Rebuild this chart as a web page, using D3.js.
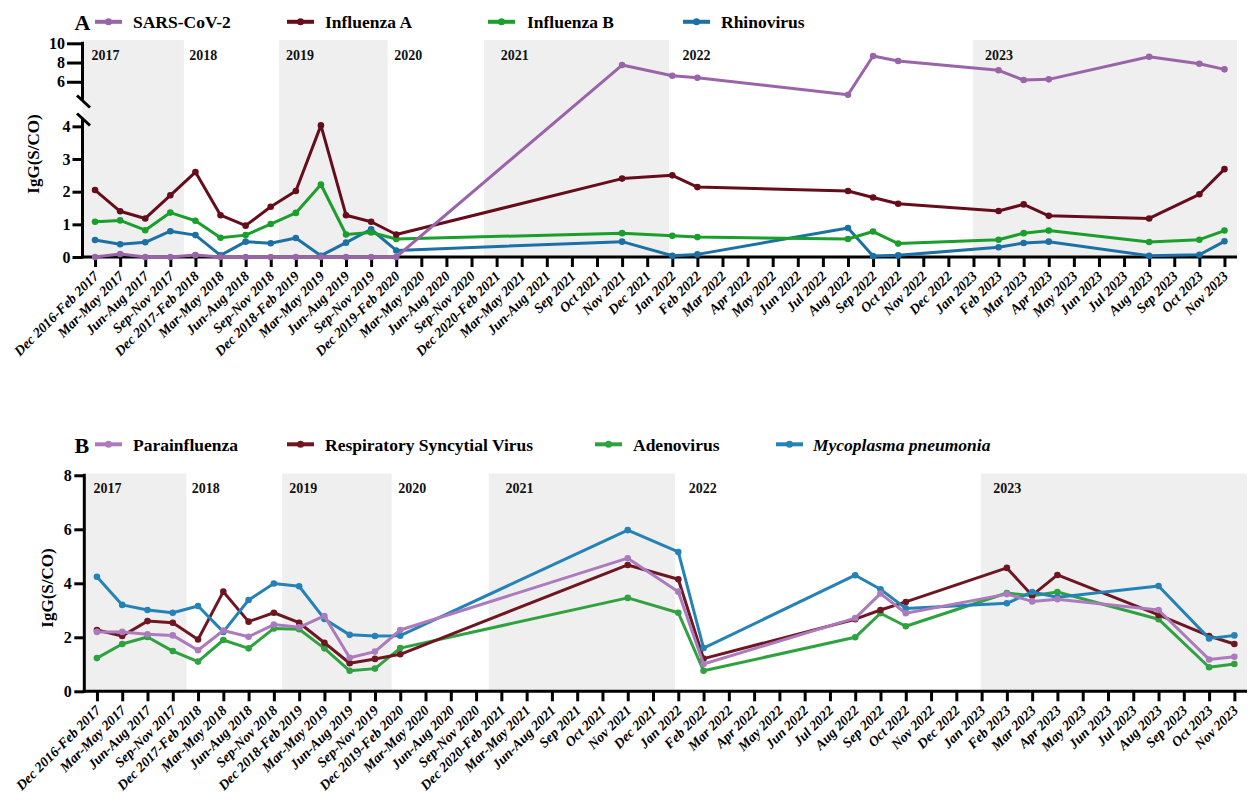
<!DOCTYPE html>
<html><head><meta charset="utf-8">
<script src="https://cdn.jsdelivr.net/npm/d3@7"></script>
<style>
body{margin:0;background:#fff;}
svg{display:block;font-family:"Liberation Serif","Times New Roman",serif;}
</style></head><body>
<svg id="chart" width="1252" height="803"></svg>
<script>
// ---------- DATA ----------
const categories = ["Dec 2016-Feb 2017","Mar-May 2017","Jun-Aug 2017","Sep-Nov 2017","Dec 2017-Feb 2018","Mar-May 2018","Jun-Aug 2018","Sep-Nov 2018","Dec 2018-Feb 2019","Mar-May 2019","Jun-Aug 2019","Sep-Nov 2019","Dec 2019-Feb 2020","Mar-May 2020","Jun-Aug 2020","Sep-Nov 2020","Dec 2020-Feb 2021","Mar-May 2021","Jun-Aug 2021","Sep 2021","Oct 2021","Nov 2021","Dec 2021","Jan 2022","Feb 2022","Mar 2022","Apr 2022","May 2022","Jun 2022","Jul 2022","Aug 2022","Sep 2022","Oct 2022","Nov 2022","Dec 2022","Jan 2023","Feb 2023","Mar 2023","Apr 2023","May 2023","Jun 2023","Jul 2023","Aug 2023","Sep 2023","Oct 2023","Nov 2023"];
const sampledCategories = ["Dec 2016-Feb 2017","Mar-May 2017","Jun-Aug 2017","Sep-Nov 2017","Dec 2017-Feb 2018","Mar-May 2018","Jun-Aug 2018","Sep-Nov 2018","Dec 2018-Feb 2019","Mar-May 2019","Jun-Aug 2019","Sep-Nov 2019","Dec 2019-Feb 2020","Nov 2021","Jan 2022","Feb 2022","Aug 2022","Sep 2022","Oct 2022","Feb 2023","Mar 2023","Apr 2023","Aug 2023","Oct 2023","Nov 2023"];

// Panel A
const sarsCoV2   = [0, 0.09, 0, 0, 0.06, 0, 0, 0, 0, 0, 0, 0, 0, 7.74, 6.63, 6.42, 4.65, 8.68, 8.16, 7.19, 6.18, 6.25, 8.60, 7.88, 7.29];
const influenzaA = [2.05, 1.40, 1.18, 1.89, 2.60, 1.28, 0.96, 1.54, 2.02, 4.03, 1.28, 1.08, 0.69, 2.40, 2.50, 2.14, 2.02, 1.82, 1.63, 1.41, 1.61, 1.26, 1.18, 1.92, 2.69];
const influenzaB = [1.08, 1.12, 0.82, 1.36, 1.11, 0.59, 0.67, 1.01, 1.35, 2.22, 0.69, 0.75, 0.55, 0.73, 0.65, 0.61, 0.55, 0.78, 0.41, 0.53, 0.73, 0.81, 0.46, 0.53, 0.81];
const rhinovirus = [0.52, 0.39, 0.45, 0.79, 0.67, 0.05, 0.47, 0.42, 0.58, 0.04, 0.44, 0.85, 0.20, 0.47, 0.04, 0.08, 0.89, 0.03, 0.05, 0.30, 0.43, 0.47, 0.04, 0.07, 0.48];

// Panel B
const parainfluenza = [2.20, 2.20, 2.11, 2.07, 1.52, 2.25, 2.02, 2.47, 2.37, 2.79, 1.24, 1.47, 2.27, 4.93, 3.69, 1.01, 2.71, 3.62, 2.89, 3.60, 3.33, 3.41, 3.01, 1.18, 1.28];
const rsv           = [2.27, 2.05, 2.60, 2.54, 1.92, 3.69, 2.58, 2.91, 2.54, 1.80, 1.04, 1.20, 1.37, 4.68, 4.15, 1.21, 2.67, 3.01, 3.31, 4.57, 3.55, 4.31, 2.83, 2.05, 1.75];
const adenovirus    = [1.23, 1.75, 2.01, 1.49, 1.10, 1.90, 1.59, 2.33, 2.30, 1.59, 0.76, 0.84, 1.60, 3.46, 2.91, 0.76, 2.00, 2.89, 2.41, 3.64, 3.54, 3.68, 2.67, 0.89, 1.01];
const mycoplasma    = [4.24, 3.20, 3.01, 2.91, 3.16, 2.20, 3.38, 3.99, 3.89, 2.68, 2.09, 2.05, 2.06, 5.97, 5.16, 1.60, 4.30, 3.78, 3.07, 3.26, 3.68, 3.48, 3.90, 1.96, 2.07];

// Year annotations (positions in category-index units)
const yearLabels   = ["2017","2018","2019","2020","2021","2022","2023"];
const yearLabelPos = [-0.14, 3.75, 7.61, 11.92, 16.16, 23.41, 35.46];
const shadedStart  = [-0.5, 7.33, 15.5, 34.97];
const shadedEnd    = [3.54, 11.66, 22.87, 45.5];

// Axis ticks
const ticksALow  = [0, 1, 2, 3, 4];
const ticksAHigh = [6, 8, 10];
const ticksB     = [0, 2, 4, 6, 8];

// ---------- DRAW ----------
const svg = d3.select("#chart");
const FONT = '"Liberation Serif","Times New Roman",serif';

function xIdxPos(x, i){ return x(categories[0]) + i * x.step(); }

function drawBands(g, x, top, bottom){
  g.selectAll(null).data(shadedStart).enter().append("rect")
    .attr("x", (d)=>xIdxPos(x,d))
    .attr("width", (d,i)=>xIdxPos(x,shadedEnd[i]) - xIdxPos(x,d))
    .attr("y", top).attr("height", bottom-top)
    .attr("fill", "#efefef");
}
function drawYearLabels(g, x, y){
  g.selectAll(null).data(yearLabels).enter().append("text")
    .attr("x", (d,i)=>xIdxPos(x, yearLabelPos[i]))
    .attr("y", y)
    .attr("font-size", 14).attr("font-weight", "bold").attr("fill","#111")
    .text(d=>d);
}
function drawXAxis(g, x, y0){
  const ax = g.append("g").attr("transform", `translate(0,${y0})`)
    .call(d3.axisBottom(x).tickSize(10).tickSizeOuter(0));
  ax.select(".domain").attr("stroke","#000").attr("stroke-width",3)
    .attr("d", `M${x.range()[0]-1.5},0H${x.range()[1]}`);
  ax.selectAll(".tick line").attr("stroke","#000").attr("stroke-width",3);
  ax.selectAll(".tick text")
    .attr("y", 0).attr("dy", null).attr("x", 0)
    .attr("text-anchor","end")
    .attr("transform","translate(4,20) rotate(-45)")
    .attr("font-family", FONT).attr("font-size", 14)
    .attr("font-weight","bold").attr("font-style","italic").attr("fill","#000");
}
function drawSeries(g, x, yf, values, color){
  const pts = sampledCategories.map((c,i)=>[x(c), yf(values[i])]);
  g.append("path").datum(pts)
    .attr("d", d3.line())
    .attr("fill","none").attr("stroke", color).attr("stroke-width", 3)
    .attr("stroke-linejoin","round");
  g.selectAll(null).data(pts).enter().append("circle")
    .attr("cx", d=>d[0]).attr("cy", d=>d[1]).attr("r", 3.3).attr("fill", color);
}
function drawLegend(g, items, y){
  items.forEach(it=>{
    g.append("line").attr("x1", it.lx).attr("x2", it.lx+27).attr("y1", y).attr("y2", y)
      .attr("stroke", it.color).attr("stroke-width", 4);
    g.append("circle").attr("cx", it.lx+13.5).attr("cy", y).attr("r", 3.5).attr("fill", it.color);
    g.append("text").attr("x", it.tx).attr("y", y+6.6)
      .attr("font-size", 17.5).attr("font-weight","bold")
      .attr("font-style", it.italic ? "italic" : "normal").attr("fill","#000")
      .text(it.name);
  });
}

// ===== Panel A =====
const gA = svg.append("g");
const xA = d3.scalePoint(categories, [82.5, 1237]).padding(0.5);
const yLow  = d3.scaleLinear([0, 4.1], [257, 123.1]);
const yHigh = d3.scaleLinear([4, 10], [101, 43.3]);
const yA = v => v > 4.2 ? yHigh(v) : yLow(v);

drawBands(gA, xA, 40, 257);
drawYearLabels(gA, xA, 60);

// y axis (broken)
const axL = gA.append("g").attr("transform","translate(82.5,0)")
  .call(d3.axisLeft(yLow).tickValues(ticksALow).tickSize(10).tickPadding(2).tickFormat(d3.format("d")));
const axH = gA.append("g").attr("transform","translate(82.5,0)")
  .call(d3.axisLeft(yHigh).tickValues(ticksAHigh).tickSize(15.5).tickPadding(2).tickFormat(d3.format("d")));
[axL, axH].forEach(ax=>{
  ax.select(".domain").remove();
  ax.selectAll(".tick line").attr("stroke","#000").attr("stroke-width",3);
  ax.selectAll(".tick text").attr("font-family",FONT).attr("font-size",16).attr("font-weight","bold").attr("fill","#000");
});
gA.append("line").attr("x1",82.5).attr("x2",82.5).attr("y1",yHigh(10)-1.5).attr("y2",100.5).attr("stroke","#000").attr("stroke-width",3);
gA.append("line").attr("x1",82.5).attr("x2",82.5).attr("y1",119).attr("y2",258.5).attr("stroke","#000").attr("stroke-width",3);
gA.append("line").attr("x1",77).attr("x2",90).attr("y1",95.5).attr("y2",107.5).attr("stroke","#000").attr("stroke-width",3);
gA.append("line").attr("x1",77).attr("x2",90).attr("y1",113.5).attr("y2",125.5).attr("stroke","#000").attr("stroke-width",3);

drawXAxis(gA, xA, 257);

const cSars="#9a64a8", cFluA="#660d1c", cFluB="#1a9e2c", cRhino="#1b71a5";
drawSeries(gA, xA, yA, rhinovirus, cRhino);
drawSeries(gA, xA, yA, influenzaB, cFluB);
drawSeries(gA, xA, yA, influenzaA, cFluA);
drawSeries(gA, xA, yA, sarsCoV2, cSars);

gA.append("text").attr("x",74.5).attr("y",29.5).attr("font-size",22).attr("font-weight","bold").text("A");
drawLegend(gA, [
  {name:"SARS-CoV-2", color:cSars, lx:95, tx:133},
  {name:"Influenza A", color:cFluA, lx:287, tx:325},
  {name:"Influenza B", color:cFluB, lx:488, tx:527},
  {name:"Rhinovirus", color:cRhino, lx:683, tx:721}
], 21.8);
gA.append("text").attr("transform","translate(39,154) rotate(-90)")
  .attr("text-anchor","middle").attr("font-size",17).attr("font-weight","bold").text("IgG(S/CO)");

// ===== Panel B =====
const gB = svg.append("g");
const xB = d3.scalePoint(categories, [84.3, 1247]).padding(0.5);
const yB = d3.scaleLinear([0, 8], [691.3, 475.3]);

drawBands(gB, xB, 473.5, 691.3);
drawYearLabels(gB, xB, 493);

const axB = gB.append("g").attr("transform","translate(84.3,0)")
  .call(d3.axisLeft(yB).tickValues(ticksB).tickSize(10).tickPadding(2.5).tickFormat(d3.format("d")));
axB.select(".domain").remove();
axB.selectAll(".tick line").attr("stroke","#000").attr("stroke-width",3);
axB.selectAll(".tick text").attr("font-family",FONT).attr("font-size",16).attr("font-weight","bold").attr("fill","#000");
gB.append("line").attr("x1",84.3).attr("x2",84.3).attr("y1",yB(8)-1.5).attr("y2",692.8).attr("stroke","#000").attr("stroke-width",3);

drawXAxis(gB, xB, 691.3);

const cPara="#ac7bbd", cRsv="#6e1622", cAdeno="#2fa23f", cMyco="#2582b6";
drawSeries(gB, xB, yB, adenovirus, cAdeno);
drawSeries(gB, xB, yB, rsv, cRsv);
drawSeries(gB, xB, yB, mycoplasma, cMyco);
drawSeries(gB, xB, yB, parainfluenza, cPara);

gB.append("text").attr("x",74.5).attr("y",452.5).attr("font-size",22).attr("font-weight","bold").text("B");
drawLegend(gB, [
  {name:"Parainfluenza", color:cPara, lx:95, tx:133},
  {name:"Respiratory Syncytial Virus", color:cRsv, lx:287, tx:325},
  {name:"Adenovirus", color:cAdeno, lx:595, tx:633},
  {name:"Mycoplasma pneumonia", color:cMyco, lx:776, tx:813, italic:true}
], 444.3);
gB.append("text").attr("transform","translate(53,588) rotate(-90)")
  .attr("text-anchor","middle").attr("font-size",17).attr("font-weight","bold").text("IgG(S/CO)");
</script>
</body></html>
